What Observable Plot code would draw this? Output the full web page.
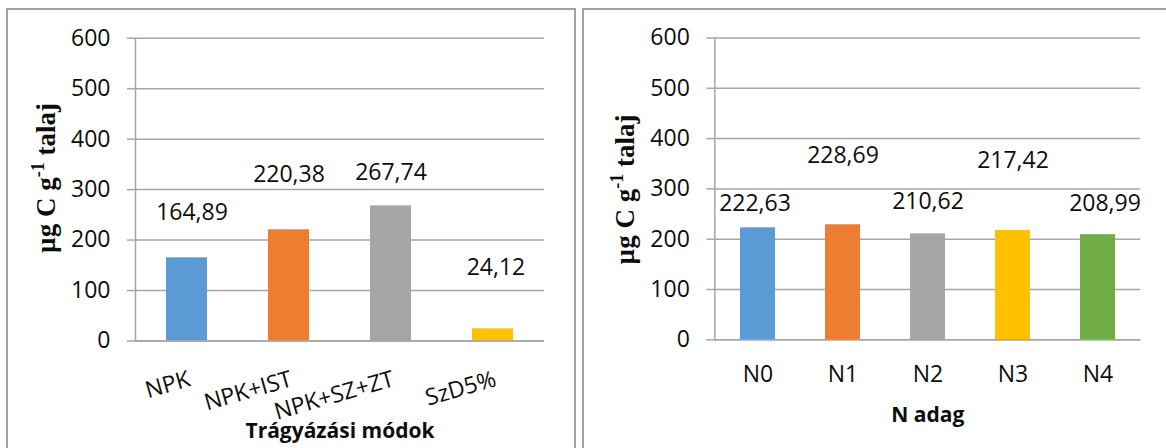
<!DOCTYPE html>
<html><head><meta charset="utf-8">
<script src="https://cdn.jsdelivr.net/npm/d3@7"></script>
<script src="https://cdn.jsdelivr.net/npm/@observablehq/plot@0.6"></script>
<style>
body{margin:0;background:#fff}
#wrap{position:relative;width:1166px;height:448px;overflow:hidden;background:#fff}
.panel{position:absolute;border:2px solid #a3a3a3;box-sizing:border-box}
.chart{position:absolute;top:0}
</style></head><body><div id="wrap">
<div class="panel" style="left:6px;top:8px;width:570px;height:470px"></div>
<div class="panel" style="left:582px;top:8px;width:620px;height:470px"></div>
</div>
<script>
// ---- data ----
const leftCategories = ["NPK", "NPK+IST", "NPK+SZ+ZT", "SzD5%"];
const leftValues = [164.89, 220.38, 267.74, 24.12];
const leftLabels = ["164,89", "220,38", "267,74", "24,12"];
const leftLabelAt = [239, 316, 320, 130];   // label baseline height (axis units) as placed in picture
const leftColors = ["#5b9bd5", "#ed7d31", "#a5a5a5", "#ffc000"];
const leftXTitle = "Trágyázási módok";

const rightCategories = ["N0", "N1", "N2", "N3", "N4"];
const rightValues = [222.63, 228.69, 210.62, 217.42, 208.99];
const rightLabels = ["222,63", "228,69", "210,62", "217,42", "208,99"];
const rightLabelAt = [256, 352, 261, 341, 257];
const rightColors = ["#5b9bd5", "#ed7d31", "#a5a5a5", "#ffc000", "#70ad47"];
const rightXTitle = "N adag";

const yTicks = [0, 100, 200, 300, 400, 500, 600];
const yTitleMain = "µg C g";
const yTitleSup = "-1";
const yTitleEnd = " talaj";

// ---- styles ----
const FONT = "'Open Sans', sans-serif";
const GRID = "#a6a6a6";
const TXT = "#0d0d0d";

function addYTitle(svg, cx, cy) {
  const t = d3.select(svg).append("text")
    .attr("transform", `translate(${cx},${cy}) rotate(-90)`)
    .attr("text-anchor", "middle").attr("dy", "0.35em")
    .attr("fill", TXT)
    .style("font", "bold 27px 'Liberation Serif', serif");
  t.append("tspan").text(yTitleMain);
  t.append("tspan").attr("dy", -11).attr("font-size", 18).text(yTitleSup);
  t.append("tspan").attr("dy", 11).text(yTitleEnd);
}

function makeChart(o) {
  const data = o.cats.map((c, i) => ({cat: c, v: o.vals[i], lab: o.labs[i], at: o.at[i], col: o.cols[i]}));
  const marks = [
    Plot.gridY(yTicks, {stroke: GRID, strokeOpacity: 1, strokeWidth: 1.5}),
    Plot.barY(data, {x: "cat", y: "v", fill: "col"}),
    Plot.ruleY([0], {stroke: GRID, strokeWidth: 1.5}),
    Plot.frame({anchor: "left", stroke: GRID, strokeWidth: 1.5}),
    Plot.axisY(yTicks, {tickSize: 8, tickPadding: 17, stroke: GRID, strokeWidth: 1.5, fill: TXT, fontSize: 23, fontFamily: FONT, label: null}),
    ...data.map((d, i) => Plot.text([d], {x: "cat", y: "at", text: "lab", dx: o.dx[i], lineAnchor: "bottom", fill: TXT, fontSize: 23, fontFamily: FONT})),
    Plot.text([o.xTitle], {frameAnchor: "bottom", dy: o.titleDy, lineAnchor: "bottom", fill: TXT, fontSize: 21, fontWeight: "bold", fontFamily: FONT})
  ];
  if (o.rotate) {
    marks.push(Plot.text(data, {x: "cat", frameAnchor: "bottom", text: "cat", dy: o.tickDy, rotate: o.rotate, textAnchor: "end", lineAnchor: "top", fill: TXT, fontSize: 23, fontFamily: FONT}));
  } else {
    marks.push(Plot.axisX({tickSize: 0, tickPadding: o.tickDy, fill: TXT, fontSize: 23, fontFamily: FONT, label: null}));
  }
  const svg = Plot.plot({
    width: o.width, height: 448,
    marginLeft: o.ml, marginRight: o.mr, marginTop: o.mt, marginBottom: o.mb,
    x: {domain: o.cats, paddingInner: o.pad, paddingOuter: o.pad / 2, axis: null},
    y: {domain: [0, 600], axis: null},
    style: {fontFamily: FONT, background: "transparent", overflow: "visible"},
    marks
  });
  addYTitle(svg, o.ytx, o.yty);
  svg.classList.add("chart");
  svg.style.left = o.left + "px";
  return svg;
}

const wrap = document.getElementById("wrap");
wrap.appendChild(makeChart({
  cats: leftCategories, vals: leftValues, labs: leftLabels, at: leftLabelAt, cols: leftColors,
  dx: [5, 0, 0, 3], xTitle: leftXTitle,
  width: 576, left: 0, ml: 135, mr: 32, mt: 37.7, mb: 107.5, pad: 0.6,
  rotate: -16, tickDy: 29, titleDy: 96.5, ytx: 46, yty: 178
}));
wrap.appendChild(makeChart({
  cats: rightCategories, vals: rightValues, labs: rightLabels, at: rightLabelAt, cols: rightColors,
  dx: [-3, 0, 0, 0, 7], xTitle: rightXTitle,
  width: 583, left: 583, ml: 131.3, mr: 25.7, mt: 37.5, mb: 108.7, pad: 0.59,
  rotate: 0, tickDy: 26, titleDy: 82.4, ytx: 42, yty: 189.5
}));
</script></body></html>
